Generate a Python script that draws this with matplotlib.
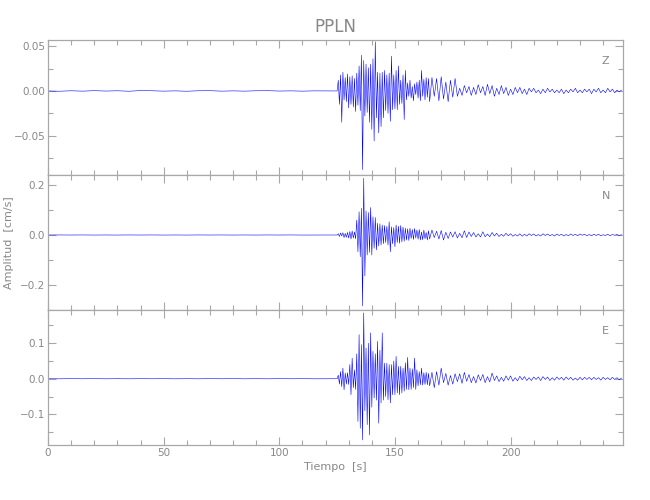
import numpy as np
import matplotlib
matplotlib.use("Agg")
import matplotlib.pyplot as plt
from matplotlib.ticker import FixedLocator, MultipleLocator

# time grids (s): quiet part, strong shaking, coda
t_pre = np.arange(0, 125, 5)
t_strong = np.arange(125, 165, 0.5)
t_coda = np.arange(165, 249, 1)

# Z component (cm/s), peaks
z_pre = [0.0, -0.0003, 0.0002, -0.0002, 0.0003, -0.0001, 0.0002, -0.0003, 0.0004,
         0.0002, -0.0002, 0.0001, -0.0003, 0.0002, 0.0003, -0.0002, 0.0001, -0.0002,
         0.0002, 0.0003, -0.0001, 0.0001, -0.0002, 0.0001, 0.0]
z_strong = [0.000, 0.012, -0.015, 0.018, -0.035, 0.021, -0.010, 0.015, -0.012, 0.019,
            -0.019, 0.016, -0.015, 0.017, -0.018, 0.014, -0.023, 0.020, -0.016, 0.028,
            -0.022, 0.040, -0.088, 0.034, -0.028, 0.030, -0.024, 0.026, -0.035, 0.030,
            -0.043, 0.036, -0.056, 0.055, -0.030, 0.021, -0.047, 0.020, -0.040, 0.021,
            -0.030, 0.023, -0.022, 0.018, -0.025, 0.020, -0.034, 0.039, -0.021, 0.018,
            -0.020, 0.023, -0.021, 0.028, -0.015, 0.012, -0.014, 0.018, -0.032, 0.023,
            -0.010, 0.009, -0.006, 0.012, -0.008, 0.005, -0.011, 0.008, -0.004, 0.010,
            -0.008, 0.012, -0.011, 0.023, -0.006, 0.013, -0.010, 0.015, -0.007, 0.014]
z_coda = [-0.012, 0.015, -0.006, 0.014, -0.011, 0.016, -0.009, 0.010, -0.012, 0.012,
          -0.007, 0.014, -0.006, 0.003, -0.005, 0.006, -0.002, 0.005, -0.005, 0.004,
          -0.004, 0.007, -0.002, 0.005, -0.005, 0.0075, -0.003, 0.006, -0.006, 0.003,
          -0.004, 0.006, -0.003, 0.004, -0.005, 0.002, -0.004, 0.004, -0.002, 0.004,
          -0.003, 0.002, -0.004, 0.003, -0.001, 0.003, -0.002, 0.001, -0.003, 0.002,
          -0.002, 0.003, -0.001, 0.002, -0.002, 0.001, -0.002, 0.002, -0.003, 0.001,
          -0.002, 0.002, -0.001, 0.003, -0.002, 0.001, -0.002, 0.002, -0.001, 0.002,
          -0.003, 0.002, -0.001, 0.003, -0.002, 0.001, -0.002, 0.003, -0.001, 0.002,
          -0.002, 0.001, -0.001, 0.001]

# N component
n_pre = [0.0, 0.0002, -0.0001, 0.0002, -0.0002, 0.0001, -0.0002, 0.0002, -0.0001,
         0.0002, -0.0002, 0.0001, -0.0002, 0.0002, -0.0001, 0.0002, -0.0002, 0.0001,
         -0.0002, 0.0002, -0.0001, 0.0002, -0.0002, 0.0001, 0.0]
n_strong = [0.000, 0.005, -0.006, 0.008, -0.004, 0.009, -0.010, 0.006, -0.009, 0.010,
            -0.012, 0.014, -0.016, 0.016, -0.012, 0.012, -0.015, 0.060, -0.067, 0.093,
            -0.087, 0.107, -0.284, 0.227, -0.164, 0.096, -0.080, 0.090, -0.070, 0.110,
            -0.080, 0.073, -0.053, 0.070, -0.060, 0.047, -0.044, 0.045, -0.040, 0.040,
            -0.035, 0.038, -0.030, 0.035, -0.040, 0.053, -0.067, 0.033, -0.035, 0.030,
            -0.047, 0.040, -0.030, 0.035, -0.033, 0.038, -0.028, 0.032, -0.025, 0.027,
            -0.020, 0.025, -0.022, 0.027, -0.014, 0.022, -0.018, 0.026, -0.012, 0.020,
            -0.017, 0.022, -0.020, 0.012, -0.019, 0.020, -0.015, 0.010, -0.020, 0.017]
n_coda = [-0.016, 0.020, -0.010, 0.015, -0.016, 0.018, -0.020, 0.011, -0.014, 0.012,
          -0.008, 0.013, -0.012, 0.007, -0.011, 0.017, -0.010, 0.012, -0.006, 0.010,
          -0.008, 0.005, -0.008, 0.013, -0.007, 0.004, -0.007, 0.010, -0.004, 0.007,
          -0.006, 0.003, -0.005, 0.007, -0.003, 0.005, -0.005, 0.002, -0.004, 0.005,
          -0.005, 0.003, -0.004, 0.005, -0.002, 0.004, -0.004, 0.002, -0.004, 0.005,
          -0.002, 0.004, -0.003, 0.002, -0.004, 0.004, -0.002, 0.003, -0.004, 0.002,
          -0.003, 0.004, -0.002, 0.003, -0.003, 0.004, -0.001, 0.003, -0.003, 0.002,
          -0.003, 0.003, -0.002, 0.003, -0.003, 0.001, -0.002, 0.003, -0.003, 0.002,
          -0.001, 0.002, -0.002, 0.001]

# E component
e_pre = [0.0, -0.0002, 0.0002, -0.0001, 0.0002, -0.0002, 0.0001, -0.0002, 0.0002,
         -0.0001, 0.0002, -0.0002, 0.0001, -0.0002, 0.0002, -0.0001, 0.0002, -0.0002,
         0.0001, -0.0002, 0.0002, -0.0001, 0.0002, -0.0002, 0.0]
e_strong = [0.000, 0.010, -0.015, 0.020, -0.022, 0.030, -0.031, 0.016, -0.015, 0.017,
            -0.016, 0.040, -0.045, 0.058, -0.025, 0.025, -0.030, 0.070, -0.120, 0.124,
            -0.139, 0.096, -0.172, 0.185, -0.090, 0.086, -0.129, 0.100, -0.158, 0.129,
            -0.080, 0.077, -0.054, 0.070, -0.060, 0.105, -0.125, 0.080, -0.068, 0.129,
            -0.060, 0.044, -0.050, 0.044, -0.059, 0.040, -0.068, 0.040, -0.045, 0.050,
            -0.045, 0.063, -0.040, 0.035, -0.045, 0.035, -0.040, 0.030, -0.035, 0.045,
            -0.030, 0.060, -0.031, 0.030, -0.030, 0.028, -0.025, 0.058, -0.030, 0.025,
            -0.020, 0.020, -0.017, 0.030, -0.018, 0.017, -0.016, 0.018, -0.017, 0.015]
e_coda = [-0.020, 0.018, -0.025, 0.020, -0.018, 0.030, -0.011, 0.015, -0.018, 0.009,
          -0.015, 0.014, -0.008, 0.014, -0.013, 0.018, -0.007, 0.012, -0.011, 0.006,
          -0.012, 0.011, -0.005, 0.012, -0.011, 0.006, -0.009, 0.016, -0.005, 0.008,
          -0.008, 0.004, -0.007, 0.008, -0.004, 0.008, -0.007, 0.003, -0.006, 0.007,
          -0.003, 0.006, -0.005, 0.003, -0.005, 0.005, -0.002, 0.005, -0.005, 0.006,
          -0.002, 0.005, -0.005, 0.003, -0.004, 0.005, -0.002, 0.004, -0.004, 0.005,
          -0.002, 0.004, -0.004, 0.002, -0.004, 0.004, -0.003, 0.004, -0.002, 0.004,
          -0.003, 0.004, -0.002, 0.003, -0.004, 0.004, -0.002, 0.003, -0.003, 0.004,
          -0.002, 0.003, -0.003, 0.002]

components = ["Z", "N", "E"]
traces = [z_pre + z_strong + z_coda, n_pre + n_strong + n_coda, e_pre + e_strong + e_coda]
ylims = [(-0.094, 0.057), (-0.30, 0.24), (-0.186, 0.193)]
ymajor = [[-0.05, 0.0, 0.05], [-0.2, 0.0, 0.2], [-0.1, 0.0, 0.1]]
yminor = [0.025, 0.1, 0.05]
yfmt = ["{:.2f}", "{:.1f}", "{:.1f}"]
xmajor = [0, 50, 100, 150, 200]

gray = "#a8a8a8"
textgray = "#888888"

t = np.concatenate([t_pre, t_strong, t_coda])

fig = plt.figure(figsize=(6.5, 5.0), dpi=100)
left, right = 48 / 650, 623 / 650
tops = [40, 175, 310]
axes = []
for i, comp in enumerate(components):
    top = tops[i]
    ax = fig.add_axes([left, 1 - (top + 135) / 500, right - left, 135 / 500])
    axes.append(ax)
    ax.plot(t, traces[i], color="blue", lw=0.4)
    ax.set_xlim(0, 248.6)
    ax.set_ylim(*ylims[i])
    ax.yaxis.set_major_locator(FixedLocator(ymajor[i]))
    ax.yaxis.set_minor_locator(MultipleLocator(yminor[i]))
    ax.set_yticklabels([yfmt[i].format(v).replace("-", "\u2212") for v in ymajor[i]])
    ax.xaxis.set_major_locator(FixedLocator(xmajor))
    ax.xaxis.set_minor_locator(MultipleLocator(10))
    ax.tick_params(which="both", direction="in", top=True, right=True,
                   color=gray, labelcolor=textgray, labelsize=7.5, pad=2)
    ax.tick_params(which="major", length=6, width=0.8)
    ax.tick_params(which="minor", length=3.5, width=0.8)
    for s in ax.spines.values():
        s.set_color(gray)
        s.set_linewidth(0.9)
    if i < 2:
        ax.set_xticklabels([])
    ax.text(0.97, 0.845, comp, transform=ax.transAxes, ha="center", va="center",
            color=textgray, fontsize=8)

axes[2].set_xlabel("Tiempo  [s]", color=textgray, fontsize=8, labelpad=3)
axes[1].set_ylabel("Amplitud  [cm/s]", color=textgray, fontsize=8, labelpad=4)
axes[0].set_title("PPLN", color=textgray, fontsize=12, pad=6)

fig.savefig("out.png", dpi=100)
